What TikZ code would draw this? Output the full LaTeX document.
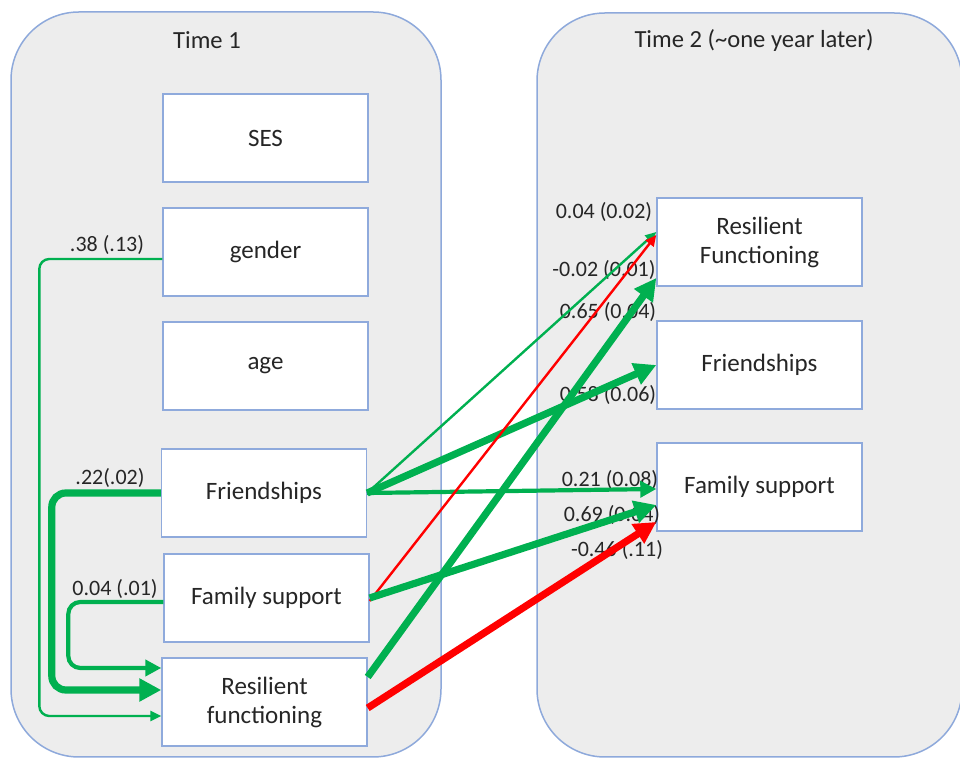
\documentclass[tikz,border=0pt]{standalone}
\usepackage{fontspec}
\setmainfont{Carlito}
\usetikzlibrary{arrows.meta}
\definecolor{panelfill}{HTML}{EDEDED}
\definecolor{panelline}{HTML}{8EA9DB}
\definecolor{boxline}{HTML}{8FAADC}
\definecolor{pgreen}{HTML}{00B050}
\definecolor{pred}{HTML}{FF0000}
\definecolor{txt}{HTML}{262626}
\tikzset{
  panel/.style={draw=panelline, fill=panelfill, line width=0.75pt, rounded corners=34pt},
  varbox/.style={draw=boxline, fill=white, line width=0.7pt, minimum width=102.5pt, minimum height=44pt, inner sep=0pt, align=center, text=txt, font=\fontsize{12.5}{14.5}\selectfont},
  title/.style={text=txt, font=\fontsize{12.3}{14}\selectfont},
  coef/.style={text=txt, font=\fontsize{11}{13}\selectfont, inner sep=0pt},
  thinarr/.style={line width=1.2pt, -{Triangle[length=5.5pt, width=5pt]}},
  medarr/.style={line width=2.1pt, -{Triangle[length=8pt, width=8pt]}},
  thickarr/.style={line width=3.6pt, -{Triangle[length=11pt, width=11pt]}},
  posc/.style={draw=pgreen},
  negc/.style={draw=pred}
}
\begin{document}
\begin{tikzpicture}[x=0.5pt, y=-0.5pt]
\useasboundingbox (0,0) rectangle (960,758);
\clip (0,0) rectangle (960,758);
% panels
\draw[panel] (11,12) rectangle (441,757);
\draw[panel] (537,13) rectangle (962,757);
\node[title] (t1) at (207,40) {Time 1};
\node[title] (t2) at (754,40) {Time 2 (\textasciitilde one year later)};
% Time 1 boxes
\node[varbox] (ses) at (265.5,138) {SES};
\node[varbox] (gen) at (265.5,252) {gender};
\node[varbox] (age) at (265.5,366) {age};
\node[varbox] (fr1) at (264,493) {Friendships};
\node[varbox] (fs1) at (266.5,598) {Family support};
\node[varbox] (rf1) at (264.5,702) {Resilient\\functioning};
% Time 2 boxes
\node[varbox] (rf2) at (759.5,242) {Resilient\\Functioning};
\node[varbox] (fr2) at (759.5,365) {Friendships};
\node[varbox] (fs2) at (759.5,487) {Family support};
% coefficient labels
\node[coef] (l1) at (107,245) {.38 (.13)};
\node[coef] (l2) at (110,478) {.22(.02)};
\node[coef] (l3) at (115,589) {0.04 (.01)};
\node[coef] (l4) at (604,212) {0.04 (0.02)};
\node[coef] (l5) at (604,270) {-0.02 (0.01)};
\node[coef] (l6) at (608,312) {0.65 (0.04)};
\node[coef] (l7) at (608,395) {0.58 (0.06)};
\node[coef] (l8) at (610,480) {0.21 (0.08)};
\node[coef] (l9) at (612,515) {0.69 (0.04)};
\node[coef] (l10) at (617,550) {-0.46 (.11)};
% within Time 1 paths
\draw[posc, thinarr, rounded corners=5pt] ([yshift=-3.5pt]gen.west) -- ++(-123,0) |- ([yshift=-7pt]rf1.west);
\draw[posc, thickarr, rounded corners=7pt] (fr1.west) -- ++(-109,0) |- ([yshift=6pt]rf1.west);
\draw[posc, medarr, rounded corners=6pt] ([yshift=-2pt]fs1.west) -- ++(-95,0) |- ([yshift=17pt]rf1.west);
% cross-lagged paths
\draw[posc, thinarr] (fr1.east) -- ([yshift=5pt]rf2.west);
\draw[posc, thickarr] (fr1.east) -- (fr2.west);
\draw[posc, medarr] (fr1.east) -- ([yshift=-1pt]fs2.west);
\draw[negc, thinarr] ([yshift=-1.5pt]fs1.east) -- ([yshift=3.5pt]rf2.west);
\draw[posc, thickarr] (fs1.east) -- ([yshift=-9pt]fs2.west);
\draw[posc, thickarr] ([yshift=12.5pt]rf1.east) -- ([yshift=-18pt]rf2.west);
\draw[negc, thickarr] ([yshift=-3pt]rf1.east) -- ([yshift=-17.5pt]fs2.west);
\end{tikzpicture}
\end{document}
